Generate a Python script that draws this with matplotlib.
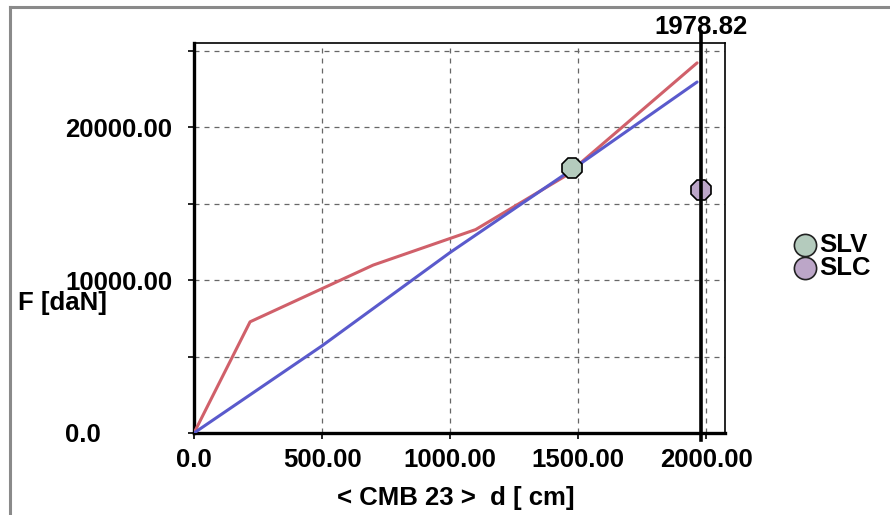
import matplotlib
matplotlib.use("Agg")
import matplotlib.pyplot as plt
import matplotlib.transforms as mtransforms
from matplotlib.lines import Line2D

# Data
red_x = [0, 219, 700, 1100, 1450, 1965]
red_y = [0, 7270, 10980, 13300, 16800, 24200]
blue_x = [0, 500, 1000, 1500, 1965]
blue_y = [0, 5700, 11800, 17500, 22950]
slv_point = (1477, 17320)
slc_point = (1978.82, 15880)
cursor_x = 1978.82
cursor_label = "1978.82"
x_ticks = [0, 500, 1000, 1500, 2000]
x_tick_labels = ["0.0", "500.00", "1000.00", "1500.00", "2000.00"]
y_ticks = [0, 5000, 10000, 15000, 20000, 25000]
y_tick_labels = ["0.0", "", "10000.00", "", "20000.00", ""]
legend_names = ["SLV", "SLC"]
legend_colors = ["#b4cbbd", "#bca6c8"]

plt.rcParams['font.family'] = ['Liberation Sans', 'DejaVu Sans']
FS = 18.5
W, H = 890, 515

fig = plt.figure(figsize=(8.9, 5.15), dpi=100)
fig.patch.set_facecolor("white")

# window border (left and top)
fig.add_artist(Line2D([10/W, 10/W], [0, 1 - 7/H], transform=fig.transFigure,
                      color="#8a8a8a", lw=2.2))
fig.add_artist(Line2D([10/W, 1], [1 - 7/H, 1 - 7/H], transform=fig.transFigure,
                      color="#8a8a8a", lw=2.2))

ax = fig.add_axes([194/W, 1 - 433/H, (725 - 194)/W, (433 - 43)/H])
ax.set_xlim(0, 2074)
ax.set_ylim(0, 25500)

ax.grid(True, color="#666666", linestyle=(0, (4, 4)), linewidth=0.9)
ax.set_axisbelow(True)

ax.plot(red_x, red_y, color="#d0606a", lw=2.2, solid_capstyle="round", zorder=3)
ax.plot(blue_x, blue_y, color="#5a5acc", lw=2.2, solid_capstyle="round", zorder=3)

ax.plot([slv_point[0]], [slv_point[1]], marker="8", markersize=16,
        markerfacecolor=legend_colors[0], markeredgecolor="black", markeredgewidth=1.2,
        linestyle="none", zorder=5)
ax.plot([slc_point[0]], [slc_point[1]], marker="8", markersize=16,
        markerfacecolor=legend_colors[1], markeredgecolor="black", markeredgewidth=1.2,
        linestyle="none", zorder=5)

# cursor line
ax.axvline(cursor_x, ymin=-0.018, ymax=1.028, color="black", lw=2.6, zorder=6, clip_on=False)
ax.text(cursor_x, 1 - 27/H, cursor_label,
        transform=mtransforms.blended_transform_factory(ax.transData, fig.transFigure),
        ha="center", va="center", fontsize=FS, fontweight="bold", zorder=4)

ax.set_xticks(x_ticks)
ax.set_xticklabels(x_tick_labels, fontsize=FS, fontweight="bold")
ax.set_yticks(y_ticks)
ax.set_yticklabels(y_tick_labels, fontsize=FS, fontweight="bold")
ax.tick_params(direction="out", length=4, width=1.2, color="black")
ax.tick_params(axis="x", pad=7)
tick_len_px = 4 * 100 / 72
ypad_pt = (194 - tick_len_px - 65) * 72 / 100
ax.tick_params(axis="y", pad=ypad_pt)
for lbl in ax.get_yticklabels():
    lbl.set_horizontalalignment("left")

for s in ["left", "bottom"]:
    ax.spines[s].set_linewidth(2.4)
for s in ["top", "right"]:
    ax.spines[s].set_linewidth(1.2)

fig.text(18/W, 1 - 303/H, "F [daN]", fontsize=FS, fontweight="bold",
         ha="left", va="center")
fig.text(456/W, 1 - 498/H, "< CMB 23 >  d [ cm]", fontsize=FS, fontweight="bold",
         ha="center", va="center")

# legend
for i, (name, col) in enumerate(zip(legend_names, legend_colors)):
    yy = 1 - (245 + 23*i)/H
    fig.add_artist(Line2D([805/W], [yy], transform=fig.transFigure, marker="o",
                          markersize=16, markerfacecolor=col, markeredgecolor="#222222",
                          markeredgewidth=1.2, linestyle="none"))
    fig.text(819/W, yy, name, fontsize=FS, fontweight="bold", ha="left", va="center")

fig.savefig("out.png", dpi=100)
